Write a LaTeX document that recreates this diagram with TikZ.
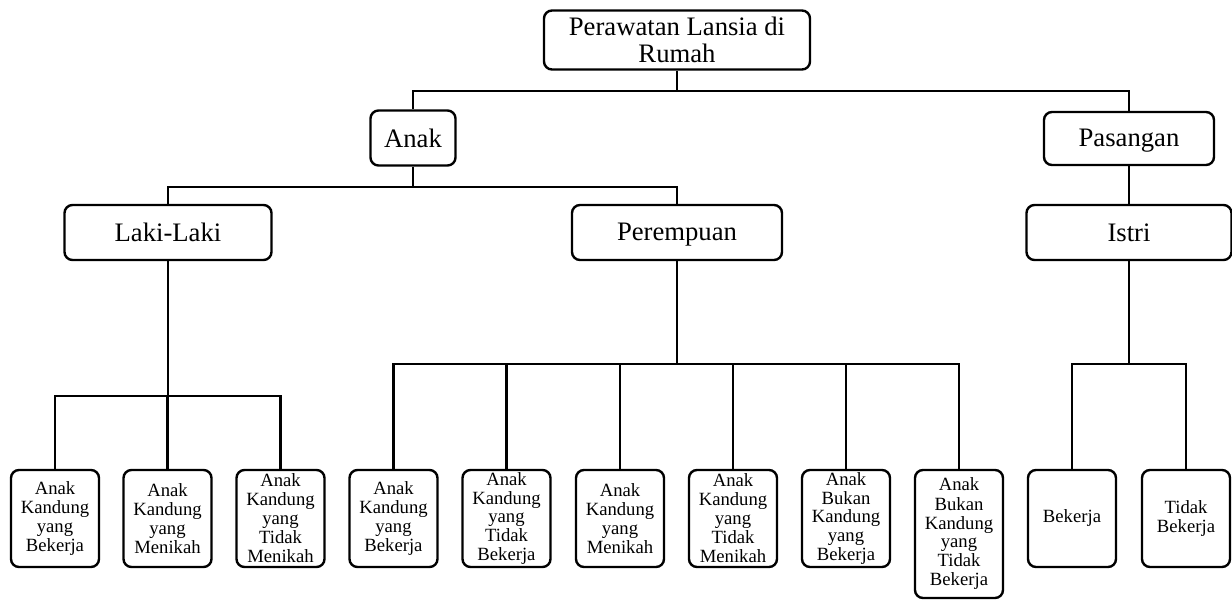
\documentclass[tikz,border=0pt]{standalone}
\usepackage{fontspec}
\setmainfont{Liberation Serif}
\usetikzlibrary{positioning}

\tikzset{
  kotak/.style={draw, line width=1.8pt, rounded corners=6pt, inner sep=0pt, align=center, minimum height=41.25pt, font=\fontsize{20}{20.25}\selectfont},
  turun/.style={text height=14pt, text depth=1.5pt},
  daun/.style={draw, line width=1.8pt, rounded corners=6pt, inner sep=0pt, align=center, minimum width=66pt, minimum height=72.75pt, font=\fontsize{14}{14.25}\selectfont},
  garis/.style={line width=1.8pt}
}

\begin{document}
\begin{tikzpicture}[x=0.75pt, y=-0.75pt]
\useasboundingbox (0,0) rectangle (1232,601);
% tingkat atas
\node[kotak, minimum width=199.5pt, minimum height=44.25pt] (top) at (677,40) {Perawatan Lansia di\\Rumah};
\node[kotak, minimum width=63.75pt] (anak) at (413,138) {Anak};
\node[kotak, turun, minimum width=127.5pt, minimum height=39.75pt] (pas) at (1129,138.5) {Pasangan};
\node[kotak, minimum width=155.25pt] (laki) at (168,232.5) {Laki-Laki};
\node[kotak, turun, minimum width=157.5pt] (perem) at (677,232.5) {Perempuan};
\node[kotak, minimum width=153.75pt] (istri) at (1129,232.5) {Istri};
% daun
\node[daun] (l1) at (55,518.5) {Anak\\Kandung\\yang\\Bekerja};
\node[daun] (l2) at (167.5,518.5) {Anak\\Kandung\\yang\\Menikah};
\node[daun] (l3) at (280.5,518.5) {Anak\\Kandung\\yang\\Tidak\\Menikah};
\node[daun] (p1) at (393.5,518.5) {Anak\\Kandung\\yang\\Bekerja};
\node[daun] (p2) at (506.5,518.5) {Anak\\Kandung\\yang\\Tidak\\Bekerja};
\node[daun] (p3) at (620,518.5) {Anak\\Kandung\\yang\\Menikah};
\node[daun] (p4) at (733,518.5) {Anak\\Kandung\\yang\\Tidak\\Menikah};
\node[daun] (p5) at (846,518.5) {Anak\\Bukan\\Kandung\\yang\\Bekerja};
\node[daun, minimum height=96pt] (p6) at (959,534) {Anak\\Bukan\\Kandung\\yang\\Tidak\\Bekerja};
\node[daun] (i1) at (1072,518.5) {Bekerja};
\node[daun] (i2) at (1186,518.5) {Tidak\\Bekerja};
% garis
\draw[garis] (top.south) -- ++(0,20.5) -| (anak.north);
\draw[garis] (top.south) ++(0,20.5) -| (pas.north);
\draw[garis] (anak.south) -- ++(0,20) -| (laki.north);
\draw[garis] (anak.south) ++(0,20) -| (perem.north);
\draw[garis] (pas.south) -- (istri.north);
\foreach \n in {l1,l2,l3}
  \draw[garis] (laki.south) -- ++(0,135) -| (\n.north);
\foreach \n in {p1,p2,p3,p4,p5,p6}
  \draw[garis] (perem.south) -- ++(0,103) -| (\n.north);
\foreach \n in {i1,i2}
  \draw[garis] (istri.south) -- ++(0,103) -| (\n.north);
\end{tikzpicture}
\end{document}
